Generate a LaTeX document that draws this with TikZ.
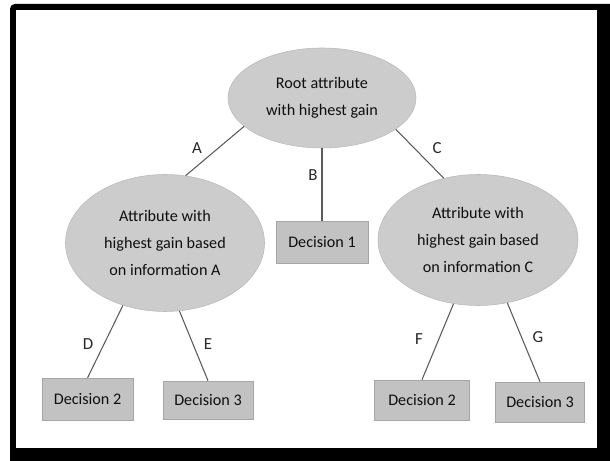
\documentclass[tikz,border=0pt]{standalone}
\definecolor{ovalGray}{RGB}{204, 204, 204}
\definecolor{ovalEdge}{RGB}{186, 186, 186}
\definecolor{boxGray}{RGB}{194, 194, 194}
\definecolor{boxEdge}{RGB}{166, 166, 166}
\definecolor{branchGray}{RGB}{90, 90, 90}
\definecolor{textDark}{RGB}{15, 15, 15}
\usepackage{fontspec}
\setmainfont{Carlito}
\usepackage{tikz}
\usetikzlibrary{shapes,arrows,positioning,calc}

\begin{document}
\begin{tikzpicture}[
    attrNode/.style={ellipse,draw=ovalEdge,fill=ovalGray,inner sep=0pt,align=center,
        font=\fontsize{11.5}{19}\selectfont,text=textDark},
    decisionBox/.style={rectangle,draw=boxEdge,fill=boxGray,inner sep=0pt,
        font=\fontsize{11.5}{13}\selectfont,text=textDark},
    branchLabel/.style={font=\fontsize{12}{13}\selectfont,text=textDark!90},
    branch/.style={draw=branchGray,line width=0.75pt}
  ]
                \useasboundingbox (0,0) rectangle (15.25,11.525);
                
                % Frame with shadow
                \fill[black,rounded corners=0.12cm] (0.25,-0.3) rectangle (15.5,11.425);
                \fill[white] (0.4,0.325) rectangle (14.925,11.275);
                
                % Attribute ovals
                \node[attrNode,minimum width=4.7cm,minimum height=2.5cm] (root) at (8.05,9.075) {Root attribute\\with highest gain};
                \node[attrNode,minimum width=4.975cm,minimum height=3.425cm] (attrA) at (4.125,5.45) {Attribute with\\highest gain based\\on information A};
                \node[attrNode,minimum width=5cm,minimum height=3.275cm] (attrC) at (11.95,5.525) {Attribute with\\highest gain based\\on information C};
                
                % Decision boxes
                \node[decisionBox,minimum width=2.3cm,minimum height=1.05cm] (dec1) at (8.05,5.475) {Decision 1};
                \node[decisionBox,minimum width=2.275cm,minimum height=1.05cm] (decA2) at (2.19,1.55) {Decision 2};
                \node[decisionBox,minimum width=2.25cm,minimum height=0.95cm] (decA3) at (5.2,1.525) {Decision 3};
                \node[decisionBox,minimum width=2.375cm,minimum height=1cm] (decC2) at (10.55,1.525) {Decision 2};
                \node[decisionBox,minimum width=2.225cm,minimum height=1cm] (decC3) at (13.5,1.475) {Decision 3};
                
                % Branches
                \draw[branch] (root.200) -- (attrA.73);
                \draw[branch] (root.south) -- (dec1.north);
                \draw[branch] (root.337) -- (attrC.119);
                \draw[branch] (attrA.236) -- (decA2.north);
                \draw[branch] (attrA.282) -- (decA3.north);
                \draw[branch] (attrC.249) -- (decC2.north);
                \draw[branch] (attrC.295) -- (decC3.north);
                
                % Branch labels
                \node[branchLabel] (labA) at (4.925,7.825) {A};
                \node[branchLabel] (labB) at (7.825,7.15) {B};
                \node[branchLabel] (labC) at (10.925,7.825) {C};
                \node[branchLabel] (labD) at (2.2,2.925) {D};
                \node[branchLabel] (labE) at (5.2,2.925) {E};
                \node[branchLabel] (labF) at (10.475,3.05) {F};
                \node[branchLabel] (labG) at (13.45,3.1) {G};
\end{tikzpicture}
\end{document}
